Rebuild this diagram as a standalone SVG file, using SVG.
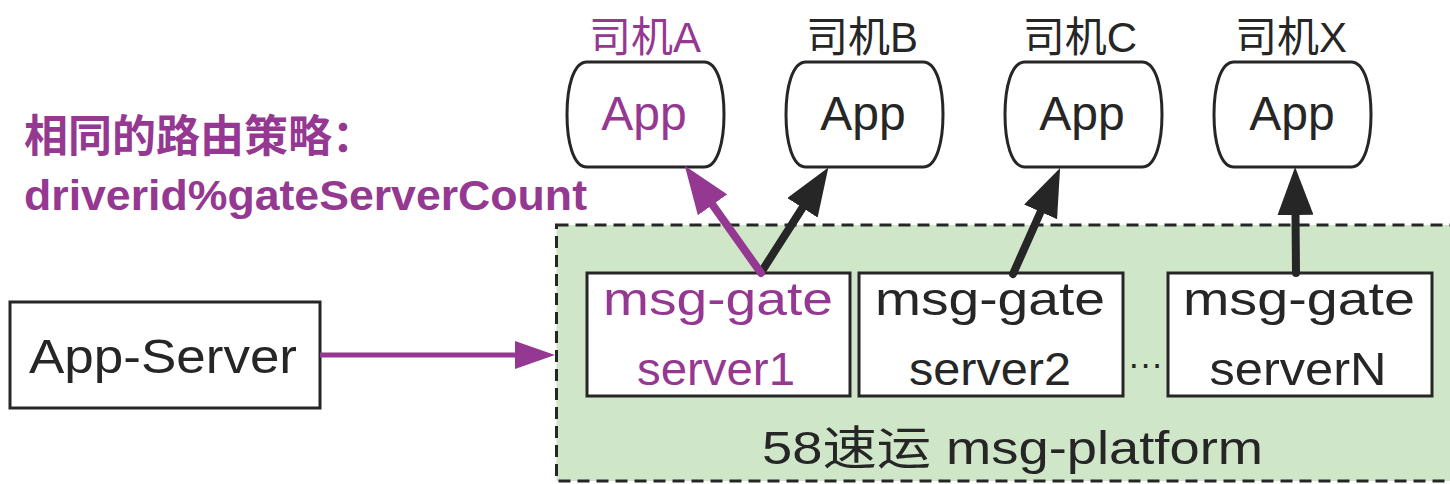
<svg xmlns="http://www.w3.org/2000/svg" width="1450" height="484" viewBox="0 0 1450 484">
<style>
.t{font-family:"Liberation Sans","Noto Sans CJK SC",sans-serif;fill:#262626}
.p{fill:#953892}
.box{fill:#fff;stroke:#262626;stroke-width:3}
.mid{text-anchor:middle}
.ln{fill:none;stroke-width:8;stroke-linecap:round}
</style>
<defs>
<path id="appShape" d="M20,0 H137 C151,0 157,26 157,52.5 C157,79 151,105 137,105 H20 C6,105 0,79 0,52.5 C0,26 6,0 20,0 Z" fill="#fff" stroke="#262626" stroke-width="3"/>
<marker id="hk" markerUnits="userSpaceOnUse" viewBox="0 0 48 36" refX="1" refY="18" markerWidth="48" markerHeight="36" orient="auto"><path d="M0,0 L48,18 L0,36 Z" fill="#262626"/></marker>
<marker id="hp" markerUnits="userSpaceOnUse" viewBox="0 0 48 36" refX="1" refY="18" markerWidth="48" markerHeight="36" orient="auto"><path d="M0,0 L48,18 L0,36 Z" fill="#953892"/></marker>
<marker id="hs" markerUnits="userSpaceOnUse" viewBox="0 0 40 28" refX="1" refY="14" markerWidth="40" markerHeight="28" orient="auto"><path d="M0,0 L40,14 L0,28 Z" fill="#953892"/></marker>
</defs>

<g id="platform">
<rect x="556.5" y="225" width="1000" height="256" fill="#CFE6C9" stroke="#262626" stroke-width="3" stroke-dasharray="12 7"/>
<text class="t" x="762" y="464" font-size="46" textLength="501" lengthAdjust="spacingAndGlyphs">58速运 msg-platform</text>
</g>

<g id="strategy">
<text class="t p" x="24" y="152" font-size="44" font-weight="bold">相同的路由策略：</text>
<text class="t p" x="24" y="210" font-size="43" font-weight="bold" textLength="563" lengthAdjust="spacingAndGlyphs">driverid%gateServerCount</text>
</g>

<g id="appServer">
<rect class="box" x="10" y="302" width="310" height="106"/>
<text class="t" x="29" y="373" font-size="48" textLength="268" lengthAdjust="spacingAndGlyphs">App-Server</text>
</g>

<g id="appA">
<use href="#appShape" x="567" y="62"/>
<text class="t p mid" x="645" y="52" font-size="42">司机A</text>
<text class="t p mid" x="644" y="130" font-size="48">App</text>
</g>
<g id="appB">
<use href="#appShape" x="786" y="62"/>
<text class="t mid" x="862" y="52" font-size="42">司机B</text>
<text class="t mid" x="863" y="130" font-size="48">App</text>
</g>
<g id="appC">
<use href="#appShape" x="1005" y="62"/>
<text class="t mid" x="1080" y="52" font-size="42">司机C</text>
<text class="t mid" x="1082" y="130" font-size="48">App</text>
</g>
<g id="appX">
<use href="#appShape" x="1214" y="62"/>
<text class="t mid" x="1291" y="52" font-size="42">司机X</text>
<text class="t mid" x="1292" y="130" font-size="48">App</text>
</g>

<g id="gate1">
<rect class="box" x="587" y="273" width="263" height="123"/>
<text class="t p mid" x="718" y="315" font-size="46" textLength="230" lengthAdjust="spacingAndGlyphs">msg-gate</text>
<text class="t p mid" x="716" y="385" font-size="46" textLength="158" lengthAdjust="spacingAndGlyphs">server1</text>
</g>
<g id="gate2">
<rect class="box" x="859" y="273" width="264" height="123"/>
<text class="t mid" x="990" y="315" font-size="46" textLength="230" lengthAdjust="spacingAndGlyphs">msg-gate</text>
<text class="t mid" x="990" y="385" font-size="46" textLength="162" lengthAdjust="spacingAndGlyphs">server2</text>
</g>
<text class="t" x="1128" y="376" font-size="36" textLength="35" lengthAdjust="spacingAndGlyphs">···</text>
<g id="gateN">
<rect class="box" x="1168" y="273" width="264" height="123"/>
<text class="t mid" x="1299" y="315" font-size="46" textLength="232" lengthAdjust="spacingAndGlyphs">msg-gate</text>
<text class="t mid" x="1298" y="385" font-size="46" textLength="177" lengthAdjust="spacingAndGlyphs">serverN</text>
</g>

<g id="connectors">
<line x1="320" y1="355" x2="516" y2="355" stroke="#953892" stroke-width="5" marker-end="url(#hs)"/>
<line class="ln" x1="762" y1="271" x2="803" y2="207" stroke="#262626" marker-end="url(#hk)"/>
<line class="ln" x1="1013" y1="274" x2="1041" y2="211" stroke="#262626" marker-end="url(#hk)"/>
<line class="ln" x1="1296" y1="273" x2="1295.5" y2="214" stroke="#262626" marker-end="url(#hk)"/>
<line class="ln" x1="761" y1="273" x2="712" y2="204" stroke="#953892" marker-end="url(#hp)"/>
</g>
</svg>
